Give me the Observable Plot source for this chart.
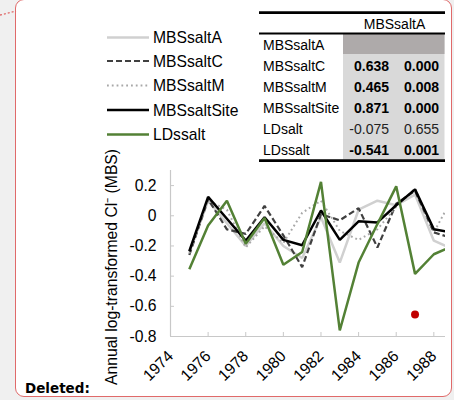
<!DOCTYPE html>
<html>
<head>
<meta charset="utf-8">
<script src="https://cdn.jsdelivr.net/npm/d3@7"></script>
<script src="https://cdn.jsdelivr.net/npm/@observablehq/plot@0.6"></script>
<style>
  html, body { margin: 0; padding: 0; }
  body { width: 454px; height: 400px; background: #f0f0f0; position: relative; overflow: hidden;
         font-family: "Liberation Sans", Arial, sans-serif; }
  #frame { position: absolute; left: 15px; top: -1px; width: 435px; height: 396px;
           border: 1.5px solid #e06a6a; border-radius: 9px; background: #fff; }
  #chart, #overlay { position: absolute; left: 0; top: 0; }
</style>
</head>
<body>
<div id="frame"></div>
<div id="chart"></div>
<svg id="overlay" width="454" height="400"></svg>
<script>
// ---- data ----
const years = [1975,1976,1977,1978,1979,1980,1981,1982,1983,1984,1985,1986,1987,1988,1989];
const MBSsaltA    = [-0.24, 0.10, -0.05, -0.20, -0.05, -0.20, -0.28, -0.01, -0.31, 0.04, 0.10, 0.07, 0.14, -0.165, -0.22];
const MBSsaltC    = [-0.26, 0.11, -0.09, -0.12, 0.065, -0.13, -0.34, 0.01, -0.03, 0.05, -0.21, 0.08, 0.165, -0.11, -0.15];
const MBSsaltM    = [-0.25, 0.10, 0.04, -0.21, -0.07, -0.18, 0.02, 0.10, -0.10, -0.16, -0.09, 0.06, 0.18, -0.11, 0.12];
const MBSsaltSite = [-0.235, 0.125, -0.02, -0.165, -0.01, -0.16, -0.195, 0.035, -0.16, -0.037, -0.044, 0.07, 0.175, -0.09, -0.11];
const LDssalt     = [-0.355, -0.065, 0.10, -0.185, -0.015, -0.325, -0.24, 0.225, -0.76, -0.31, -0.055, 0.195, -0.385, -0.255, -0.20];
const redYear = [1987];
const redValue = [-0.655];

const seriesNames = ["MBSsaltA", "MBSsaltC", "MBSsaltM", "MBSsaltSite", "LDssalt"];
const seriesValues = [MBSsaltA, MBSsaltC, MBSsaltM, MBSsaltSite, LDssalt];

const xTicks = [1974,1976,1978,1980,1982,1984,1986,1988];
const yTicks = [-0.8,-0.6,-0.4,-0.2,0,0.2];
const yTitle = "Annual log-transformed Cl\u207B (MBS)";

const tableHeader = "MBSsaltA";
const tableRows = ["MBSsaltA","MBSsaltC","MBSsaltM","MBSsaltSite","LDsalt","LDssalt"];
const corrR = [null, 0.638, 0.465, 0.871, -0.075, -0.541];
const corrP = [null, 0.000, 0.008, 0.000, 0.655, 0.001];
const corrBold = [false, true, true, true, false, true];

// ---- styles ----
const styles = {
  MBSsaltA:    {stroke: "#d0d0d0", strokeWidth: 2.5},
  MBSsaltC:    {stroke: "#404040", strokeWidth: 2.2, strokeDasharray: "6,3"},
  MBSsaltM:    {stroke: "#a8a8a8", strokeWidth: 2, strokeDasharray: "1.8,3"},
  MBSsaltSite: {stroke: "#000000", strokeWidth: 2.5},
  LDssalt:     {stroke: "#538135", strokeWidth: 2.5}
};

const rows = [];
seriesNames.forEach((name, k) => years.forEach((yr, i) => rows.push({series: name, year: yr, value: seriesValues[k][i]})));

const fmtY = d => d === 0 ? "0" : d.toFixed(1);
const axisColor = "#c8c8c8";

const plot = Plot.plot({
  width: 454,
  height: 400,
  marginLeft: 170,
  marginRight: 9,
  marginTop: 170,
  marginBottom: 64,
  style: {background: "transparent", fontFamily: "'Liberation Sans', Arial, sans-serif", fontSize: "15.7px", color: "#000", overflow: "visible"},
  x: {domain: [1974, 1988.62], axis: null, label: null},
  y: {domain: [-0.8, 0.3], axis: null, label: null},
  marks: [
    Plot.ruleX([1974], {stroke: axisColor, strokeWidth: 1.2}),
    Plot.ruleY([-0.8], {stroke: axisColor, strokeWidth: 1.2}),
    Plot.ruleX(xTicks, {x: d => d, y1: -0.8, y2: -0.8, insetTop: -4, stroke: axisColor}),
    Plot.ruleY(yTicks, {y: d => d, x1: 1974, x2: 1974, insetRight: -4, stroke: axisColor}),
    Plot.axisX({ticks: xTicks, label: null, tickSize: 0, tickRotate: -45, tickPadding: 17, tickFormat: d => String(d), fontSize: 15.7, fill: "#000"}),
    Plot.axisY({ticks: yTicks, label: null, tickSize: 0, tickPadding: 14, tickFormat: fmtY, fontSize: 15.7, fill: "#000"}),
    ...seriesNames.map(name => Plot.line(rows.filter(r => r.series === name), {
      x: "year", y: "value", clip: true, strokeLinejoin: "miter", strokeLinecap: "butt", ...styles[name]
    })),
    Plot.dot(redYear.map((yr, i) => ({year: yr, value: redValue[i]})), {x: "year", y: "value", r: 4, fill: "#c00000", stroke: "none"})
  ]
});
document.getElementById("chart").appendChild(plot);

// ---- overlay: legend, table, labels ----
const svg = d3.select("#overlay");
const font = "'Liberation Sans', Arial, sans-serif";

// dotted comment connector
svg.append("line").attr("x1", 0).attr("y1", 15).attr("x2", 16).attr("y2", 11)
  .attr("stroke", "#e06a6a").attr("stroke-width", 1.3).attr("stroke-dasharray", "2,2");

// y-axis title
svg.append("text").attr("transform", "translate(117,385) rotate(-90)")
  .attr("font-family", font).attr("font-size", 15.7).attr("fill", "#000").text(yTitle);

// legend
const legendY = [37.5, 61, 85.5, 110, 134.5];
seriesNames.forEach((name, i) => {
  const s = styles[name];
  svg.append("line").attr("x1", 107).attr("x2", 149).attr("y1", legendY[i]).attr("y2", legendY[i])
    .attr("stroke", s.stroke).attr("stroke-width", s.strokeWidth)
    .attr("stroke-dasharray", s.strokeDasharray || null);
  svg.append("text").attr("x", 153).attr("y", legendY[i] + 5.6)
    .attr("font-family", font).attr("font-size", 15.7).attr("fill", "#000").text(name);
});

// table
const tx0 = 259, tx1 = 445;
const rowBase = [50, 71, 92, 113, 134, 155];
svg.append("rect").attr("x", 343).attr("y", 34).attr("width", 101.5).attr("height", 125.5).attr("fill", "#d9d9d9");
svg.append("rect").attr("x", 343).attr("y", 34).attr("width", 101.5).attr("height", 20).attr("fill", "#aeaaaa");
svg.append("line").attr("x1", tx0).attr("x2", tx1).attr("y1", 12.7).attr("y2", 12.7).attr("stroke", "#000").attr("stroke-width", 2.8);
svg.append("line").attr("x1", tx0).attr("x2", tx1).attr("y1", 33.5).attr("y2", 33.5).attr("stroke", "#000").attr("stroke-width", 1.8);
svg.append("line").attr("x1", tx0).attr("x2", tx1).attr("y1", 160.7).attr("y2", 160.7).attr("stroke", "#000").attr("stroke-width", 2.8);
svg.append("text").attr("x", 394.5).attr("y", 29).attr("text-anchor", "middle")
  .attr("font-family", font).attr("font-size", 14).attr("fill", "#000").text(tableHeader);
tableRows.forEach((name, i) => {
  svg.append("text").attr("x", 263).attr("y", rowBase[i])
    .attr("font-family", font).attr("font-size", 14).attr("fill", "#000").text(name);
  if (corrR[i] !== null) {
    const w = corrBold[i] ? "bold" : "normal";
    const col = corrBold[i] ? "#000" : "#222";
    svg.append("text").attr("x", 389).attr("y", rowBase[i]).attr("text-anchor", "end")
      .attr("font-family", font).attr("font-size", 14).attr("font-weight", w).attr("fill", col)
      .text(corrR[i].toFixed(3));
    svg.append("text").attr("x", 439).attr("y", rowBase[i]).attr("text-anchor", "end")
      .attr("font-family", font).attr("font-size", 14).attr("font-weight", w).attr("fill", col)
      .text(corrP[i].toFixed(3));
  }
});

// "Deleted:" margin note
svg.append("text").attr("x", 25).attr("y", 393)
  .attr("font-family", "'DejaVu Sans', Verdana, sans-serif").attr("font-size", 13.5).attr("font-weight", "bold").attr("fill", "#000")
  .text("Deleted:");
</script>
</body>
</html>
